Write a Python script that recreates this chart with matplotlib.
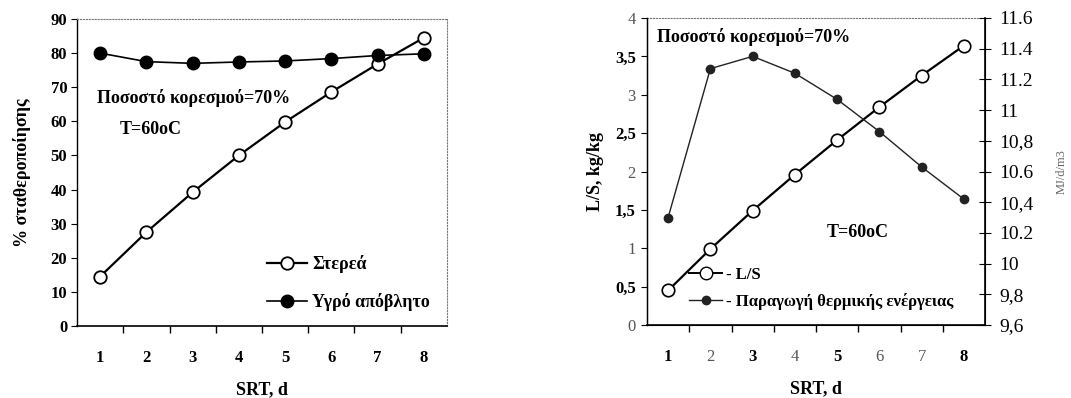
import numpy as np
import matplotlib
matplotlib.use('Agg')
import matplotlib.pyplot as plt
from matplotlib.ticker import FixedLocator
from matplotlib.lines import Line2D

plt.rcParams['font.family'] = ['Liberation Serif', 'DejaVu Serif']

# SRT (days)
srt = [1, 2, 3, 4, 5, 6, 7, 8]

# % σταθεροποίησης
solids = [14.5, 27.5, 39.2, 50.0, 59.8, 68.6, 76.8, 84.5]
liquid = [80.0, 77.5, 77.0, 77.4, 77.7, 78.4, 79.3, 79.8]

# L/S and heat production
ls_ratio = [0.45, 0.99, 1.49, 1.96, 2.41, 2.84, 3.25, 3.64]
heat = [10.30, 11.27, 11.35, 11.24, 11.07, 10.86, 10.63, 10.42]

left_ticks = [0, 10, 20, 30, 40, 50, 60, 70, 80, 90]
ls_ticks = [0, 0.5, 1, 1.5, 2, 2.5, 3, 3.5, 4]
ls_labels = ['0', '0,5', '1', '1,5', '2', '2,5', '3', '3,5', '4']
heat_ticks = [9.6, 9.8, 10.0, 10.2, 10.4, 10.6, 10.8, 11.0, 11.2, 11.4, 11.6]
heat_labels = ['9,6', '9,8', '10', '10.2', '10,4', '10.6', '10,8', '11', '11.2', '11.4', '11.6']

W, H = 1071, 398
fig = plt.figure(figsize=(W / 100, H / 100), dpi=100)


def setup_category_axis(ax):
    ax.set_xlim(0.5, 8.5)
    ax.set_xticks(srt)
    ax.set_xticklabels([str(s) for s in srt], fontsize=12, fontweight='bold')
    ax.tick_params(axis='x', which='major', length=0, pad=17)
    ax.xaxis.set_minor_locator(FixedLocator([1.5, 2.5, 3.5, 4.5, 5.5, 6.5, 7.5]))
    ax.tick_params(axis='x', which='minor', length=5, direction='out', width=1)
    ax.set_xlabel('SRT, d', fontsize=13, fontweight='bold', labelpad=11)
    ax.spines['top'].set_linestyle(':')
    ax.spines['top'].set_color('#777777')
    ax.spines['bottom'].set_linewidth(1.2)
    ax.spines['left'].set_linewidth(1.0)


# ---- left panel: stabilisation
ax1 = fig.add_axes([77 / W, 72 / H, 370 / W, 307 / H])
setup_category_axis(ax1)
ax1.spines['right'].set_linestyle(':')
ax1.spines['right'].set_color('#777777')
ax1.set_ylim(0, 90)
ax1.set_yticks(left_ticks)
ax1.set_yticklabels([str(t) for t in left_ticks], fontsize=12, fontweight='bold')
ax1.tick_params(axis='y', length=4, direction='out', pad=3)

ax1.plot(srt, solids, '-o', color='black', lw=1.6, ms=9,
         mfc='white', mec='black', mew=1.3, label='Στερεά', zorder=3)
ax1.plot(srt, liquid, '-o', color='black', lw=1.2, ms=9,
         mfc='black', mec='black', label='Υγρό απόβλητο', zorder=3)
ax1.set_ylabel('% σταθεροποίησης', fontsize=13, fontweight='bold', labelpad=14)

ax1.text(0.93, 66.9, 'Ποσοστό κορεσμού=70%', fontsize=13, fontweight='bold',
         va='center', ha='left')
ax1.text(1.43, 57.5, 'T=60oC', fontsize=13, fontweight='bold',
         va='center', ha='left')

leg1 = ax1.legend(loc='lower left', bbox_to_anchor=(0.47, -0.005), frameon=False,
                  fontsize=13, handlelength=2.2, handletextpad=0.3,
                  labelspacing=1.1)
for t in leg1.get_texts():
    t.set_fontweight('bold')

# ---- right panel: L/S and heat production
ax2 = fig.add_axes([647 / W, 73 / H, 338 / W, 307 / H])
setup_category_axis(ax2)
for lab, s in zip(ax2.get_xticklabels(), srt):
    if s in (2, 4, 6, 7):
        lab.set_color('#555555')
        lab.set_fontweight('normal')
ax2.set_ylim(0, 4)
ax2.set_yticks(ls_ticks)
ax2.set_yticklabels(ls_labels, fontsize=12, fontweight='bold')
for lab, t in zip(ax2.get_yticklabels(), ls_ticks):
    if float(t).is_integer():
        lab.set_fontweight('normal')
        lab.set_color('#555555')
ax2.tick_params(axis='y', length=4, direction='out', pad=4)
ax2.set_ylabel('L/S, kg/kg', fontsize=13, fontweight='bold', labelpad=8)

ax3 = ax2.twinx()
ax3.set_ylim(9.6, 11.6)
ax3.set_yticks(heat_ticks)
ax3.set_yticklabels(heat_labels, fontsize=14)
ax3.tick_params(axis='y', length=8, direction='inout', pad=6, width=0.8)
ax3.spines['top'].set_visible(False)
ax3.spines['right'].set_linewidth(1.2)
ax3.set_ylabel('MJ/d/m3', fontsize=9, color='#666666', labelpad=16)

ax2.plot(srt, ls_ratio, '-o', color='black', lw=1.6, ms=9,
         mfc='white', mec='black', mew=1.2, zorder=3)
ax3.plot(srt, heat, '-o', color='#222222', lw=1.0, ms=6,
         mfc='#222222', mec='#222222', zorder=3)

ax2.text(0.74, 3.75, 'Ποσοστό κορεσμού=70%', fontsize=13, fontweight='bold',
         va='center', ha='left')
ax2.text(4.76, 1.2, 'T=60oC', fontsize=13, fontweight='bold',
         va='center', ha='left')

handles = [Line2D([], [], color='black', lw=1.4, marker='o', ms=9,
                  mfc='white', mec='black'),
           Line2D([], [], color='#222222', lw=1.0, marker='o', ms=6,
                  mfc='#222222', mec='#222222')]
leg2 = ax2.legend(handles, ['- L/S', '- Παραγωγή θερμικής ενέργειας'],
                  loc='lower left', bbox_to_anchor=(0.08, 0.0), frameon=False,
                  fontsize=12, handlelength=2.0, handletextpad=0.2,
                  labelspacing=0.6)
for t in leg2.get_texts():
    t.set_fontweight('bold')

fig.savefig('out.png', dpi=100, facecolor='white')
